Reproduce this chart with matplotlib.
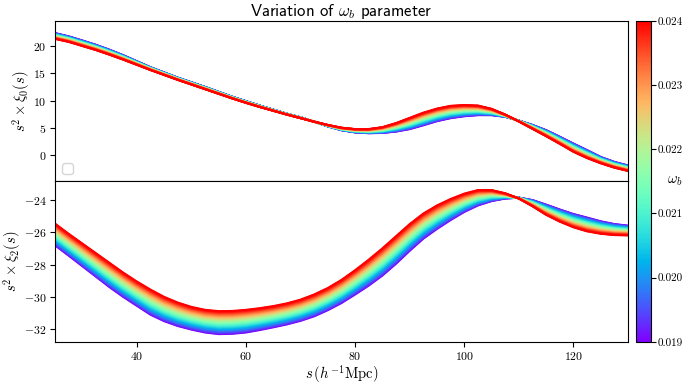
import numpy as np
import matplotlib
matplotlib.use("Agg")
import matplotlib.pyplot as plt
from matplotlib import cm, colors

plt.rcParams['font.family'] = 'cmr10'
plt.rcParams['mathtext.fontset'] = 'cm'
plt.rcParams['axes.formatter.use_mathtext'] = True
plt.rcParams['axes.unicode_minus'] = True

# separation grid (h^-1 Mpc)
s = [25, 27.5, 30, 32.5, 35, 37.5, 40, 42.5, 45, 47.5, 50, 52.5, 55, 57.5, 60,
     62.5, 65, 67.5, 70, 72.5, 75, 77.5, 80, 82.5, 85, 87.5, 90, 92.5, 95, 97.5,
     100, 102.5, 105, 107.5, 110, 112.5, 115, 117.5, 120, 122.5, 125, 127.5, 130]

# s^2 xi_0 at the lowest / highest omega_b
xi0_low = [22.35, 21.75, 21.0, 20.2, 19.3, 18.3, 17.2, 16.1, 15.15, 14.2, 13.35,
           12.5, 11.6, 10.7, 9.9, 9.1, 8.35, 7.6, 6.95, 6.15, 5.3, 4.6, 4.2, 4.05,
           4.1, 4.35, 4.8, 5.5, 6.25, 6.8, 7.15, 7.35, 7.35, 7.05, 6.35, 5.55, 4.6,
           3.4, 2.15, 0.95, -0.3, -1.2, -1.86]
xi0_high = [21.3, 20.75, 20.0, 19.25, 18.4, 17.5, 16.55, 15.6, 14.7, 13.8, 12.95,
            12.1, 11.25, 10.4, 9.6, 8.85, 8.15, 7.45, 6.8, 6.15, 5.55, 5.05, 4.8, 4.8,
            5.15, 5.9, 6.85, 7.8, 8.55, 9.05, 9.2, 9.1, 8.5, 7.45, 6.2, 4.85, 3.5,
            2.1, 0.65, -0.5, -1.45, -2.25, -2.85]

# s^2 xi_2
xi2_low = [-26.81, -27.45, -28.1, -28.75, -29.4, -30.0, -30.55, -31.1, -31.5, -31.8,
           -32.02, -32.2, -32.3, -32.28, -32.2, -32.05, -31.88, -31.7, -31.48, -31.2,
           -30.82, -30.38, -29.85, -29.3, -28.68, -27.95, -27.15, -26.4, -25.8, -25.25,
           -24.75, -24.35, -24.08, -23.92, -23.87, -24.02, -24.3, -24.6, -24.88, -25.1,
           -25.33, -25.5, -25.6]
xi2_high = [-25.47, -26.1, -26.7, -27.3, -27.9, -28.5, -29.05, -29.55, -30.0, -30.35,
            -30.62, -30.8, -30.88, -30.87, -30.8, -30.7, -30.57, -30.4, -30.17, -29.85,
            -29.45, -28.95, -28.35, -27.7, -27.0, -26.25, -25.5, -24.85, -24.35, -23.95,
            -23.62, -23.4, -23.4, -23.6, -23.92, -24.4, -24.93, -25.35, -25.7, -25.95,
            -26.1, -26.18, -26.2]

wb_min, wb_max = 0.019, 0.024
cbar_ticks = [0.019, 0.020, 0.021, 0.022, 0.023, 0.024]
n_curves = 50

s = np.array(s)
wb = np.linspace(wb_min, wb_max, n_curves)
norm = colors.Normalize(vmin=wb_min, vmax=wb_max)
cmap = plt.get_cmap('rainbow')

fig = plt.figure(figsize=(6.83, 3.85), dpi=100)
ax0 = fig.add_axes([0.0805, 0.529, 0.839, 0.417])
ax1 = fig.add_axes([0.0805, 0.112, 0.839, 0.417], sharex=ax0)
cax = fig.add_axes([0.931, 0.112, 0.022, 0.834])

for w in wb:
    t = (w - wb_min) / (wb_max - wb_min)
    c = cmap(norm(w))
    ax0.plot(s, (1 - t) * np.array(xi0_low) + t * np.array(xi0_high), color=c, lw=1.5)
    ax1.plot(s, (1 - t) * np.array(xi2_low) + t * np.array(xi2_high), color=c, lw=1.5)

ax0.set_xlim(25, 130)
ax0.set_ylim(-4.75, 24.6)
ax1.set_ylim(-32.78, -22.86)
ax0.set_yticks([0, 5, 10, 15, 20])
ax1.set_yticks([-32, -30, -28, -26, -24])
ax0.tick_params(axis='x', bottom=False, labelbottom=False)
for a in (ax0, ax1):
    a.tick_params(labelsize=8.5, pad=2.5)

ax0.set_ylabel(r'$s^2 \times \xi_0(s)$', fontsize=10.5, labelpad=1)
ax1.set_ylabel(r'$s^2 \times \xi_2(s)$', fontsize=10.5, labelpad=1)
ax1.set_xlabel(r'$s\,(h^{-1}\mathrm{Mpc})$', fontsize=10.5, labelpad=1)
ax0.set_title(r'Variation of $\omega_b$ parameter', fontsize=12, family='cmss10', pad=3)
ax0.legend(handles=[], loc='lower left')

sm = cm.ScalarMappable(norm=norm, cmap=cmap)
cb = fig.colorbar(sm, cax=cax, ticks=cbar_ticks)
cb.ax.set_yticklabels(['%.3f' % v for v in cbar_ticks])
cb.ax.tick_params(labelsize=8, pad=1.5)
cax.text(2.6, 0.5, r'$\omega_b$', transform=cax.transAxes, ha='center', va='center', fontsize=10.5)

fig.savefig('out.png', dpi=100)
